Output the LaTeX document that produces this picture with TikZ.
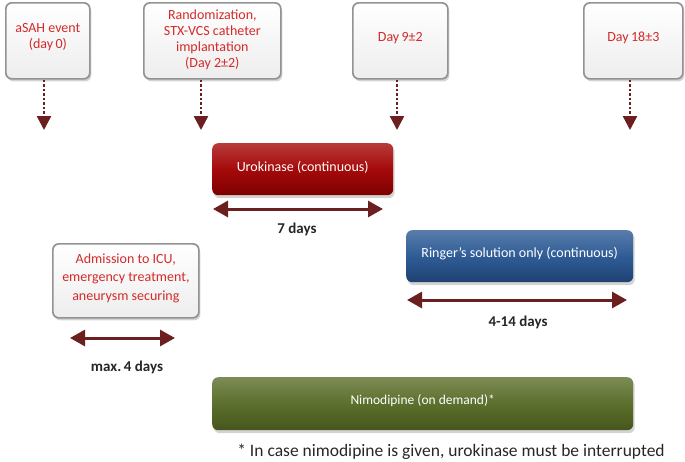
\documentclass[tikz,border=0pt]{standalone}
\usepackage{fontspec}
\setmainfont{Carlito}
\usetikzlibrary{arrows.meta,shadows}
\definecolor{txtred}{HTML}{D42A2A}
\definecolor{maroon}{HTML}{6B1F1F}
\definecolor{uro}{HTML}{A50A0A}
\definecolor{urodark}{HTML}{7E0000}
\definecolor{blu}{HTML}{2F5C96}
\definecolor{bludark}{HTML}{1F4272}
\definecolor{grn}{HTML}{5C6F2C}
\definecolor{grndark}{HTML}{46561C}
\tikzset{
  whitebox/.style={draw=gray!85, line width=1.7pt, rounded corners=6pt, top color=white, bottom color=gray!14,
    drop shadow={shadow xshift=1.5pt, shadow yshift=-2.5pt, opacity=0.35}, inner sep=0pt, anchor=north west},
  colbox/.style={rounded corners=6pt, inner sep=0pt, anchor=north west,
    drop shadow={shadow xshift=1.5pt, shadow yshift=-3pt, opacity=0.35}},
  redtext/.style={text=txtred, align=center, font=\fontsize{14}{16}\selectfont, inner sep=0pt},
  whitetext/.style={text=white, align=center, font=\fontsize{14}{16}\selectfont, inner sep=0pt},
  dotarrow/.style={draw=maroon, line width=2.5pt, dotted, -{Triangle[width=14pt,length=14pt]}},
  durarrow/.style={draw=maroon, line width=3pt, {Triangle[width=16pt,length=15pt]}-{Triangle[width=16pt,length=15pt]}},
  durlabel/.style={font=\fontsize{15}{18}\selectfont\bfseries, text=black!85},
}
\begin{document}
\begin{tikzpicture}[x=1pt,y=-1pt]
\useasboundingbox (0,0) rectangle (685,461);
% top event boxes
\node[whitebox, minimum width=84pt, minimum height=76pt] (asah) at (5,2) {};
\node[redtext, yshift=4pt] (asaht) at (asah.center) {aSAH event\\(day\,0)};
\node[whitebox, minimum width=137pt, minimum height=76pt] (rand) at (143,2) {};
\node[redtext, yshift=1pt] (randt) at (rand.center) {Randomization,\\STX-VCS catheter\\implantation\\(Day 2±2)};
\node[whitebox, minimum width=95pt, minimum height=76pt] (day9) at (352,2) {};
\node[redtext, yshift=3pt] (day9t) at (day9.center) {Day\,9±2};
\node[whitebox, minimum width=99pt, minimum height=76pt] (day18) at (583,2) {};
\node[redtext, yshift=3pt] (day18t) at (day18.center) {Day\,18±3};
% arrow end points
\coordinate (e1) at (44,130);
\coordinate (e2) at (201,130);
\coordinate (e3) at (397,130);
\coordinate (e4) at (630,130);
\draw[dotarrow] (e1 |- asah.south) -- (e1);
\draw[dotarrow] (e2 |- rand.south) -- (e2);
\draw[dotarrow] (e3 |- day9.south) -- (e3);
\draw[dotarrow] (e4 |- day18.south) -- (e4);
% urokinase
\node[colbox, top color=uro!80!white, bottom color=urodark, middle color=uro, minimum width=181pt, minimum height=52pt] (urok) at (212,143) {};
\node[whitetext, yshift=2pt] (urokt) at (urok.center) {Urokinase (continuous)};
\coordinate (u1) at (213,209);
\coordinate (u2) at (383,209);
\draw[durarrow] (u1) -- (u2);
\node[durlabel] (l7) at (297,229) {7 days};
% ringer
\node[colbox, top color=blu!80!white, bottom color=bludark, middle color=blu, minimum width=227pt, minimum height=52pt] (ring) at (406,230) {};
\node[whitetext, yshift=3pt] (ringt) at (ring.center) {Ringer’s solution only (continuous)};
\coordinate (r1) at (407,300);
\coordinate (r2) at (627,300);
\draw[durarrow] (r1) -- (r2);
\node[durlabel] (l414) at (518,322) {4-14 days};
% admission
\node[whitebox, minimum width=146pt, minimum height=74pt] (adm) at (52,243) {};
\node[redtext, font=\fontsize{14}{18.5}\selectfont, yshift=3pt] (admt) at (adm.center) {Admission to ICU,\\emergency treatment,\\aneurysm securing};
\coordinate (m1) at (70,338);
\coordinate (m2) at (175,338);
\draw[durarrow] (m1) -- (m2);
\node[durlabel] (l4) at (127,367) {max.\,4 days};
% nimodipine
\node[colbox, top color=grn!80!white, bottom color=grndark, middle color=grn, minimum width=421pt, minimum height=53pt] (nimo) at (212,377) {};
\node[whitetext, font=\fontsize{13.5}{16}\selectfont, yshift=3pt] (nimot) at (nimo.center) {Nimodipine (on demand)*};
\node[font=\fontsize{17.5}{20}\selectfont, text=black!85] (foot) at (451,452) {* In case nimodipine is given, urokinase must be interrupted};
\end{tikzpicture}
\end{document}
